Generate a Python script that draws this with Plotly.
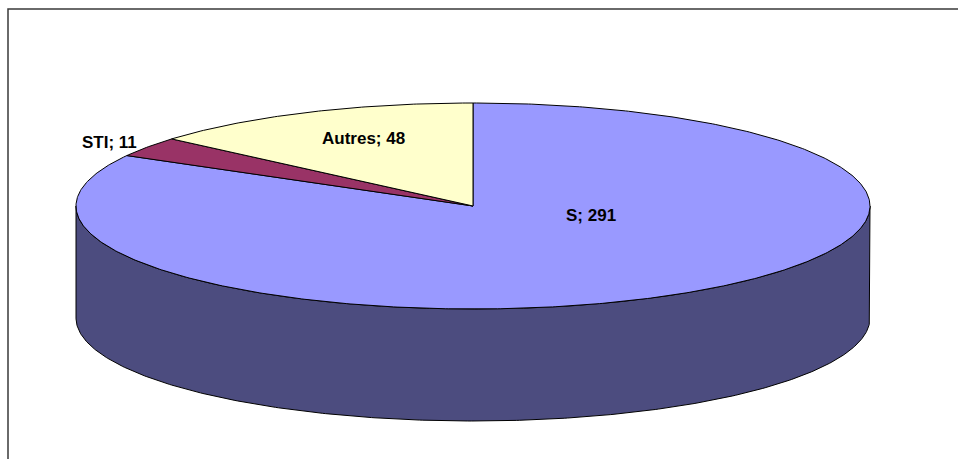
import numpy as np
import plotly.graph_objects as go

# ---- data ----
categories = ["S", "STI", "Autres"]
values = [291, 11, 48]
top_colors = ["#9999FF", "#993366", "#FFFFCC"]

# ---- layout / geometry (pixels) ----
W, H = 958, 459
CX, CY = 473, 206      # centre of the top ellipse
RX, RY = 397, 103      # radii of the top ellipse
DEPTH = 112            # thickness of the pie


def darken(hex_color, f=0.5):
    h = hex_color.lstrip("#")
    r, g, b = (int(h[i:i + 2], 16) for i in (0, 2, 4))
    return "rgb(%d,%d,%d)" % (int(r * f), int(g * f), int(b * f))


def ell(theta_deg, dy=0.0):
    t = np.radians(theta_deg)
    return CX + RX * np.cos(t), CY - RY * np.sin(t) + dy


total = float(sum(values))
cum = np.concatenate([[0.0], np.cumsum(values)])
starts = 90 - 360 * cum[:-1] / total
ends = 90 - 360 * cum[1:] / total

fig = go.Figure()

# side wall (front half of the cylinder: angles -180..0)
for i, cat in enumerate(categories):
    hi, lo = starts[i], ends[i]
    for k in (-360, 0, 360):
        a, b = max(lo + k, -180), min(hi + k, 0)
        if b - a <= 0:
            continue
        n = max(int((b - a) * 2), 4)
        th = np.linspace(a, b, n)
        xt, yt = ell(th)
        xb, yb = ell(th[::-1], DEPTH)
        xs = np.concatenate([xt, xb, xt[:1]])
        ys = np.concatenate([yt, yb, yt[:1]])
        fig.add_trace(go.Scatter(
            x=xs, y=ys, mode="lines", fill="toself",
            fillcolor=darken(top_colors[i]),
            line=dict(color="black", width=1),
            hoverinfo="skip", showlegend=False))

# top face slices
for i, cat in enumerate(categories):
    n = max(int(abs(starts[i] - ends[i]) * 2), 4)
    th = np.linspace(starts[i], ends[i], n)
    xa, ya = ell(th)
    xs = np.concatenate([[CX], xa, [CX]])
    ys = np.concatenate([[CY], ya, [CY]])
    fig.add_trace(go.Scatter(
        x=xs, y=ys, mode="lines", fill="toself",
        fillcolor=top_colors[i],
        line=dict(color="black", width=1),
        name=cat, hoverinfo="skip", showlegend=False))

# data labels
label_pos = {"S": (591, 215), "STI": (109, 142), "Autres": (363, 138)}
for cat, v in zip(categories, values):
    x, y = label_pos[cat]
    fig.add_annotation(x=x, y=y, text="%s; %d" % (cat, v), showarrow=False,
                       font=dict(family="Arial, Liberation Sans", size=17,
                                 color="black", weight="bold"),
                       xanchor="center", yanchor="middle")

# chart frame (cropped at right and bottom)
fig.add_shape(type="rect", x0=8, y0=9, x1=W + 20, y1=H + 20,
              xref="x", yref="y", line=dict(color="#3a3a3a", width=1.5),
              fillcolor="rgba(0,0,0,0)", layer="below")

fig.update_layout(
    width=W, height=H,
    margin=dict(l=0, r=0, t=0, b=0),
    paper_bgcolor="white", plot_bgcolor="white",
    xaxis=dict(range=[0, W], visible=False, fixedrange=True),
    yaxis=dict(range=[H, 0], visible=False, fixedrange=True),
    showlegend=False,
)

fig.write_html(
    "out.html",
    config={"displayModeBar": False},
    post_script="document.body.style.margin='0';document.body.style.overflow='hidden';",
)
